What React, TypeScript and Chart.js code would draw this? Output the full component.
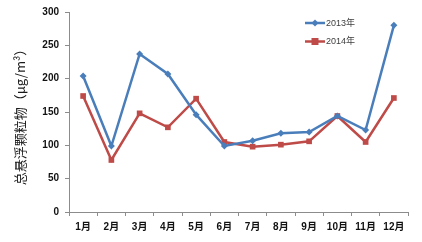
import React, { useEffect, useRef } from "react";
import { Chart, registerables } from "chart.js";

Chart.register(...registerables);

const categories = ["1月", "2月", "3月", "4月", "5月", "6月", "7月", "8月", "9月", "10月", "11月", "12月"];
const series2013 = [204, 99, 237, 207, 146, 99, 107, 118, 120, 144, 123, 280];
const series2014 = [174, 78, 148, 127, 170, 105, 98, 101, 106, 144, 105, 171];
const yTicks = [0, 50, 100, 150, 200, 250, 300];
const yTitle = "总悬浮颗粒物（μg/m³）";

const BLUE = "#4A7EBB";
const RED = "#BE4B48";
const AXIS = "#8C8C8C";

const legendPlugin = {
  id: "customLegend",
  afterDraw(chart: any) {
    const ctx = chart.ctx;
    const items = chart.data.datasets;
    ctx.save();
    items.forEach((ds: any, i: number) => {
      const y = 23 + i * 18.5;
      const x0 = 305;
      const x1 = 325;
      ctx.strokeStyle = ds.borderColor;
      ctx.lineWidth = 2.5;
      ctx.beginPath();
      ctx.moveTo(x0, y);
      ctx.lineTo(x1, y);
      ctx.stroke();
      const cx = (x0 + x1) / 2;
      ctx.fillStyle = ds.backgroundColor;
      if (ds.pointStyle === "rectRot") {
        ctx.beginPath();
        ctx.moveTo(cx, y - 3.5);
        ctx.lineTo(cx + 3.5, y);
        ctx.lineTo(cx, y + 3.5);
        ctx.lineTo(cx - 3.5, y);
        ctx.closePath();
        ctx.fill();
      } else {
        ctx.fillRect(cx - 3.5, y - 3.5, 7, 7);
      }
      ctx.fillStyle = "#404040";
      ctx.font = "9px 'Liberation Sans', 'Noto Sans CJK SC', sans-serif";
      ctx.textBaseline = "middle";
      ctx.textAlign = "left";
      ctx.fillText(ds.label, x1 + 1, y + 0.5);
    });
    ctx.restore();
  },
};

const yTitlePlugin = {
  id: "yTitle",
  afterDraw(chart: any) {
    const ctx = chart.ctx;
    ctx.save();
    ctx.translate(20, 114);
    ctx.rotate(-Math.PI / 2);
    ctx.fillStyle = "#1a1a1a";
    ctx.font = "13px 'Noto Sans CJK SC', 'DejaVu Serif', serif";
    ctx.textAlign = "center";
    ctx.textBaseline = "middle";
    ctx.fillText(yTitle, 0, 0);
    ctx.restore();
  },
};

export default function App() {
  const ref = useRef<HTMLCanvasElement | null>(null);

  useEffect(() => {
    document.body.style.margin = "0";
    const canvas = ref.current;
    if (!canvas) return;
    const chart = new Chart(canvas, {
      type: "line",
      data: {
        labels: categories,
        datasets: [
          {
            label: "2013年",
            data: series2013,
            borderColor: BLUE,
            backgroundColor: BLUE,
            borderWidth: 2.5,
            pointStyle: "rectRot",
            pointRadius: 3.5,
            pointBorderWidth: 0,
            tension: 0,
          },
          {
            label: "2014年",
            data: series2014,
            borderColor: RED,
            backgroundColor: RED,
            borderWidth: 2.5,
            pointStyle: "rect",
            pointRadius: 4,
            pointBorderWidth: 0,
            tension: 0,
          },
        ],
      },
      options: {
        animation: false,
        responsive: false,
        maintainAspectRatio: false,
        layout: { padding: { top: 12, right: 14, left: 0, bottom: 0 } },
        plugins: {
          legend: { display: false },
          tooltip: { enabled: false },
        },
        scales: {
          x: {
            offset: true,
            grid: {
              offset: true,
              drawOnChartArea: false,
              drawTicks: true,
              tickLength: 4,
              color: AXIS,
            },
            border: { color: AXIS, width: 1 },
            ticks: {
              color: "#111",
              font: { family: "'Liberation Sans', 'Noto Sans CJK SC', sans-serif", size: 10, weight: "bold" },
              padding: 5,
              maxRotation: 0,
              autoSkip: false,
            },
            afterFit(scale: any) {
              scale.height = 30;
            },
          },
          y: {
            min: 0,
            max: 300,
            afterBuildTicks(scale: any) {
              scale.ticks = yTicks.map((v) => ({ value: v }));
            },
            grid: {
              drawOnChartArea: false,
              drawTicks: true,
              tickLength: 4,
              color: AXIS,
            },
            border: { color: AXIS, width: 1 },
            ticks: {
              color: "#111",
              font: { family: "'Liberation Sans', sans-serif", size: 10, weight: "bold" },
              padding: 6,
            },
            afterFit(scale: any) {
              scale.width = 69;
            },
          },
        },
      },
      plugins: [legendPlugin, yTitlePlugin],
    } as any);
    return () => chart.destroy();
  }, []);

  return <canvas ref={ref} width={422} height={242} style={{ display: "block" }} />;
}
